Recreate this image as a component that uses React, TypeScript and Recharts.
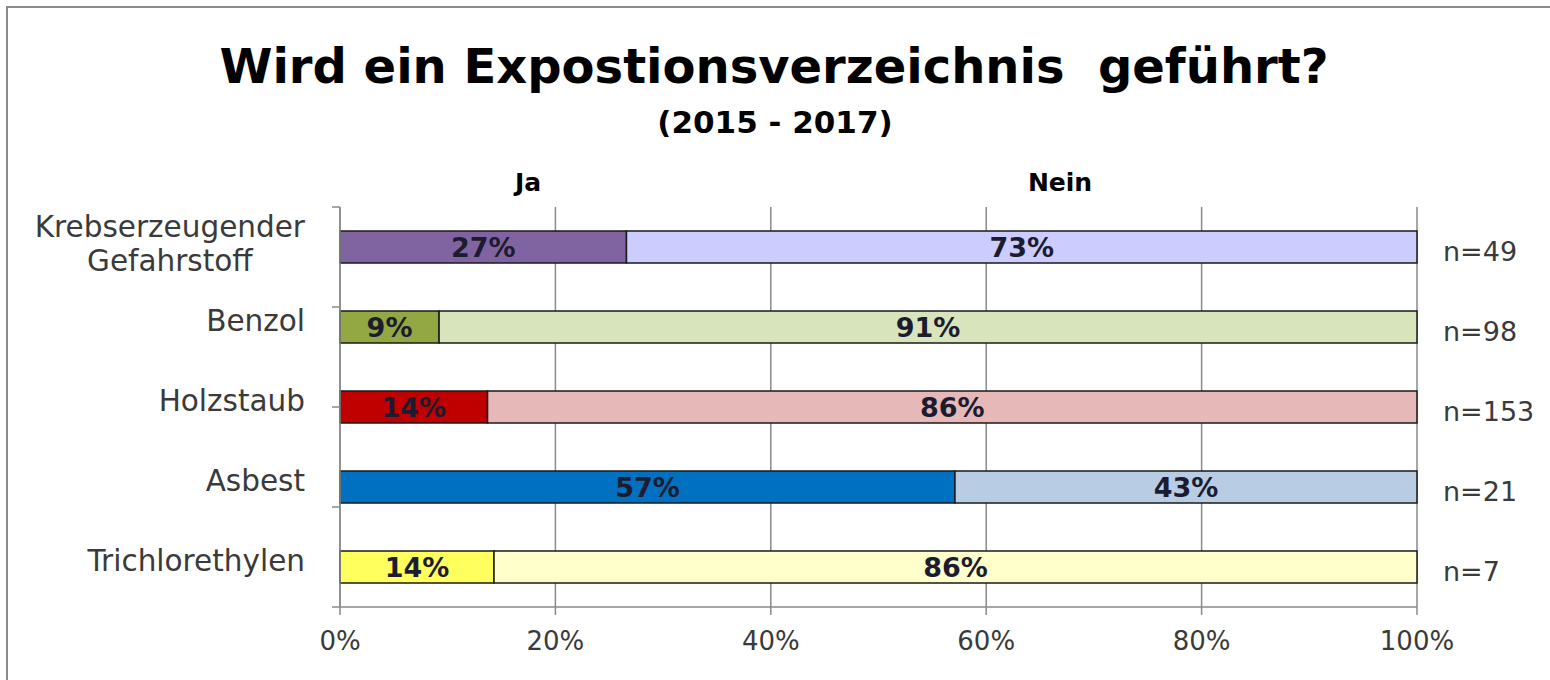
import { Bar, BarChart, CartesianGrid, Cell, LabelList, XAxis, YAxis } from "recharts";

const substances = ["Krebserzeugender\nGefahrstoff", "Benzol", "Holzstaub", "Asbest", "Trichlorethylen"];
const ja = [26.6, 9.2, 13.7, 57.1, 14.3];
const nein = [73.4, 90.8, 86.3, 42.9, 85.7];
const counts = [49, 98, 153, 21, 7];
const xTicks = [0, 20, 40, 60, 80, 100];
const bandTicks = [0, 1, 2, 3, 4, 5];

const jaColors = ["#8064a2", "#93a843", "#c00000", "#0070c0", "#ffff5e"];
const neinColors = ["#ccccff", "#d8e4bc", "#e6b8b7", "#b8cce4", "#ffffcc"];

const data = substances.map((name, i) => ({ name, ja: ja[i], nein: nein[i], n: `n=${counts[i]}` }));

const FONT = "'DejaVu Sans', sans-serif";
const GRID = "#8a8a8a";
const CAT_SIZE = 29.5;

let ctx: CanvasRenderingContext2D | null = null;
function textWidth(t: string) {
  if (!ctx) ctx = document.createElement("canvas").getContext("2d");
  if (!ctx) return t.length * 17;
  ctx.font = `${CAT_SIZE}px 'DejaVu Sans'`;
  return ctx.measureText(t).width;
}

function CatTick({ x, y, payload }: any) {
  const lines = String(payload.value).split("\n");
  const style = { fontFamily: FONT, fontSize: CAT_SIZE, fill: "#3a3a3a" };
  if (lines.length === 1) {
    return (
      <text x={x} y={y + 4} textAnchor="end" style={style}>
        {lines[0]}
      </text>
    );
  }
  const cx = x - Math.max(...lines.map(textWidth)) / 2;
  return (
    <text textAnchor="middle" style={style}>
      {lines.map((l, i) => (
        <tspan key={i} x={cx} y={y - 10 + i * 34}>
          {l}
        </tspan>
      ))}
    </text>
  );
}

function CountTick({ x, y, payload }: any) {
  return (
    <text x={x} y={y + 14} textAnchor="start" style={{ fontFamily: FONT, fontSize: 27, fill: "#3a3a3a" }}>
      {payload.value}
    </text>
  );
}

const pct = (v: any) => `${Math.round(Number(v))}%`;
const labelStyle = { fontFamily: FONT, fontSize: 27, fontWeight: 700, fill: "#1c1c30" };

export default function App() {
  return (
    <div style={{ position: "absolute", left: 0, top: 0, width: 1550, height: 680, background: "#fff", overflow: "hidden" }}>
      <div
        style={{
          position: "absolute",
          left: 6,
          top: 6,
          width: 1600,
          height: 700,
          borderTop: "2px solid #8c8c8c",
          borderLeft: "2px solid #8c8c8c",
        }}
      />
      <BarChart
        width={1550}
        height={680}
        data={data}
        layout="vertical"
        margin={{ top: 207, right: 0, bottom: 0, left: 30 }}
        barCategoryGap={0}
      >
        <CartesianGrid horizontal={false} stroke={GRID} strokeWidth={1.5} yAxisId="a" />
        <XAxis
          type="number"
          domain={[0, 100]}
          ticks={xTicks}
          interval={0}
          tickFormatter={(v) => `${v}%`}
          tickSize={8}
          tickMargin={17}
          height={73}
          stroke={GRID}
          strokeWidth={1.5}
          tick={{ fill: "#3a3a3a", fontSize: 26, fontFamily: FONT }}
        />
        <YAxis
          yAxisId="a"
          type="number"
          domain={[0, 5]}
          ticks={bandTicks}
          interval={0}
          tickFormatter={() => ""}
          tickSize={8}
          width={10}
          stroke={GRID}
          strokeWidth={1.5}
        />
        <YAxis
          yAxisId="b"
          type="category"
          dataKey="name"
          width={300}
          tickLine={false}
          axisLine={false}
          tickSize={0}
          tickMargin={25}
          interval={0}
          tick={<CatTick />}
        />
        <YAxis
          yAxisId="n"
          orientation="right"
          type="category"
          dataKey="n"
          width={133}
          tickLine={false}
          axisLine={false}
          tickSize={0}
          tickMargin={26}
          interval={0}
          tick={<CountTick />}
        />
        <Bar yAxisId="b" dataKey="ja" stackId="s" barSize={32} stroke="#1a1a1a" strokeWidth={1.5} isAnimationActive={false}>
          {data.map((_, i) => (
            <Cell key={i} fill={jaColors[i]} />
          ))}
          <LabelList dataKey="ja" position="center" formatter={pct} style={labelStyle} />
        </Bar>
        <Bar yAxisId="b" dataKey="nein" stackId="s" barSize={32} stroke="#1a1a1a" strokeWidth={1.5} isAnimationActive={false}>
          {data.map((_, i) => (
            <Cell key={i} fill={neinColors[i]} />
          ))}
          <LabelList dataKey="nein" position="center" formatter={pct} style={labelStyle} />
        </Bar>
      </BarChart>
      <svg width={1550} height={680} style={{ position: "absolute", left: 0, top: 0, pointerEvents: "none" }}>
        <text x={774} y={83} textAnchor="middle" style={{ fontFamily: FONT, fontSize: 48, fontWeight: 700, fill: "#000", whiteSpace: "pre" }}>
          {"Wird ein Expostionsverzeichnis  geführt?"}
        </text>
        <text x={775} y={133} textAnchor="middle" style={{ fontFamily: FONT, fontSize: 31, fontWeight: 700, fill: "#000" }}>
          (2015 - 2017)
        </text>
        <text x={528} y={191} textAnchor="middle" style={{ fontFamily: FONT, fontSize: 25, fontWeight: 700, fill: "#000" }}>
          Ja
        </text>
        <text x={1060} y={191} textAnchor="middle" style={{ fontFamily: FONT, fontSize: 25, fontWeight: 700, fill: "#000" }}>
          Nein
        </text>
      </svg>
    </div>
  );
}
